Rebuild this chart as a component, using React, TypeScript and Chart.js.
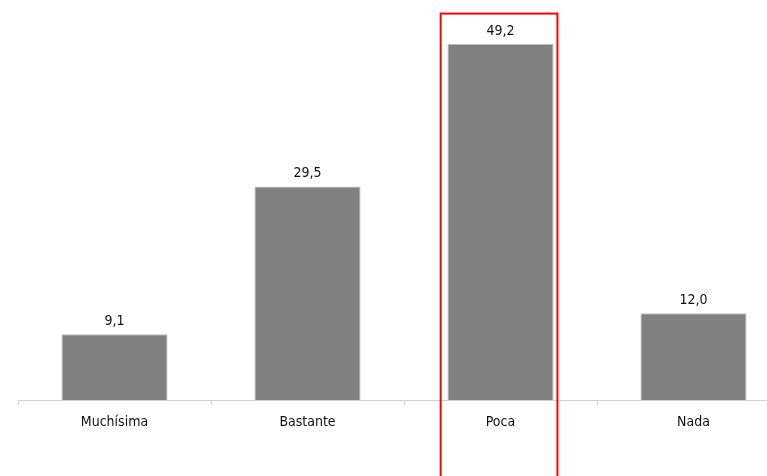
import React, { useEffect, useRef } from "react";
import { Chart, registerables } from "chart.js";

Chart.register(...registerables);

const categories = ["Muchísima", "Bastante", "Poca", "Nada"];
const values = [9.1, 29.5, 49.2, 12.0];
const valueLabels = ["9,1", "29,5", "49,2", "12,0"];
const highlightedCategory = "Poca";

const FONT = "'DejaVu Sans Condensed', 'DejaVu Sans', sans-serif";

const valueLabelPlugin = {
  id: "valueLabels",
  afterDatasetsDraw(chart: any) {
    const { ctx } = chart;
    const meta = chart.getDatasetMeta(0);
    ctx.save();
    ctx.font = `14px ${FONT}`;
    ctx.fillStyle = "#111";
    ctx.textAlign = "center";
    ctx.textBaseline = "middle";
    meta.data.forEach((bar: any, i: number) => {
      ctx.fillText(valueLabels[i], bar.x, bar.y - 13);
    });
    ctx.restore();
  },
};

const highlightPlugin = {
  id: "highlightBox",
  afterDraw(chart: any) {
    const { ctx } = chart;
    const xs = chart.scales.x;
    const ys = chart.scales.y;
    const idx = categories.indexOf(highlightedCategory);
    const cx = xs.getPixelForValue(idx);
    const catW = xs.width / categories.length;
    const left = cx - catW * 0.31;
    const right = cx + catW * 0.295;
    const top = ys.getPixelForValue(53.4);
    const bottom = chart.height + 10;
    ctx.save();
    ctx.strokeStyle = "#ff0000";
    ctx.lineWidth = 2;
    ctx.strokeRect(left, top, right - left, bottom - top);
    ctx.restore();
  },
};

export default function App() {
  const ref = useRef<HTMLCanvasElement>(null);
  useEffect(() => {
    if (!ref.current) return;
    const chart = new Chart(ref.current, {
      type: "bar",
      data: {
        labels: categories,
        datasets: [
          {
            data: values,
            backgroundColor: "#808080",
            borderColor: "#bdbdbd",
            borderWidth: 1,
            categoryPercentage: 1,
            barPercentage: 0.55,
          },
        ],
      },
      options: {
        responsive: false,
        animation: false,
        layout: { padding: { left: 18, right: 10, top: 2, bottom: 36 } },
        plugins: {
          legend: { display: false },
          tooltip: { enabled: false },
        },
        scales: {
          x: {
            grid: {
              display: true,
              drawOnChartArea: false,
              tickLength: 5,
              color: "#d0d0d0",
            },
            border: { color: "#d0d0d0" },
            ticks: {
              color: "#111",
              padding: 9,
              font: { family: FONT, size: 14 },
            },
          },
          y: {
            display: false,
            min: 0,
            max: 55,
          },
        },
      },
      plugins: [valueLabelPlugin, highlightPlugin],
    });
    return () => chart.destroy();
  }, []);
  return (
    <div
      style={{
        position: "absolute",
        left: 0,
        top: 0,
        width: 767,
        height: 476,
        overflow: "hidden",
        background: "#fff",
      }}
    >
      <canvas ref={ref} width={800} height={476} style={{ width: 800, height: 476, display: "block" }} />
    </div>
  );
}
